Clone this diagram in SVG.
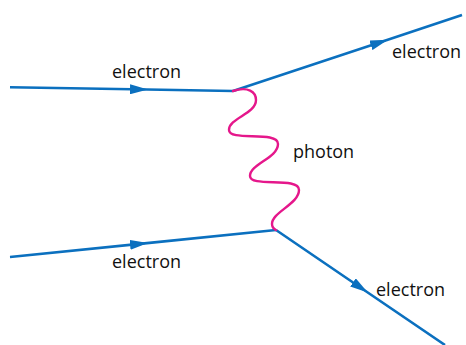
<svg xmlns="http://www.w3.org/2000/svg" width="466" height="345" viewBox="0 0 466 345">
<style>
.e{fill:none;stroke:#0b70bf;stroke-width:2.6;stroke-linecap:butt;stroke-linejoin:round}
.p{fill:none;stroke:#e5178b;stroke-width:2.4;stroke-linecap:round}
text{font-family:"Open Sans","Liberation Sans",sans-serif;font-size:18px;fill:#111}
</style>
<defs>
<marker id="arr" viewBox="0 0 18 10" refX="17" refY="5" markerWidth="18" markerHeight="10" markerUnits="userSpaceOnUse" orient="auto">
<path d="M0,0 L18,5 L0,10 z" fill="#0b70bf"/>
</marker>
</defs>
<rect width="466" height="345" fill="#fff"/>
<g id="connectors">
<path id="e-in-top" class="e" d="M10,87.3 L147,89.5 L233,91" marker-mid="url(#arr)"/>
<path id="e-out-top" class="e" d="M233,91 L387,40 L462,15" marker-mid="url(#arr)"/>
<path id="e-in-bottom" class="e" d="M10,257 L147,243.1 L276,230" marker-mid="url(#arr)"/>
<path id="e-out-bottom" class="e" d="M276,230 L367,292 L445,345" marker-mid="url(#arr)"/>
<path id="photon" class="p" d="M233,91 C248,86 256,92 256,100 C256,114 229,118 229,130 C229,142 278,130 278,144 C278,158 250,164 250,176 C250,188 299,176 299,190 C299,204 272,212 272,224 C272,227 274,229 276,230"/>
</g>
<g id="label-e1"><text x="112" y="78">electron</text></g>
<g id="label-e2"><text x="392" y="58">electron</text></g>
<g id="label-photon"><text x="293" y="158">photon</text></g>
<g id="label-e3"><text x="112" y="268">electron</text></g>
<g id="label-e4"><text x="376" y="296">electron</text></g>
</svg>
